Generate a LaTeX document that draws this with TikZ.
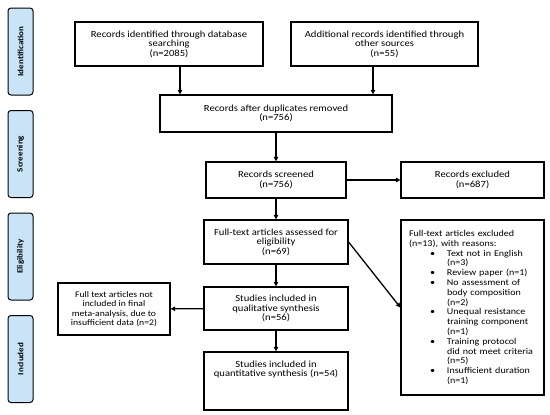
\documentclass[tikz,border=0pt]{standalone}
\usepackage{fontspec}
\setmainfont{Carlito}[FakeStretch=1.13]
\usepackage{tikz}
\usetikzlibrary{arrows.meta,positioning,calc}
\definecolor{stageblue}{RGB}{200,228,246}
\newcommand{\bitem}[1]{\hspace*{21pt}\makebox[17pt][l]{\textbullet}\mbox{#1}}
\newcommand{\bcont}[1]{\hspace*{38pt}\mbox{#1}}
\tikzset{
  box/.style={rectangle,draw,line width=1.2pt,align=center,inner sep=2pt,font=\fontsize{9.4}{9.5}\selectfont},
  lbox/.style={rectangle,draw,line width=1.2pt,align=left,inner xsep=8pt,inner ysep=0pt,font=\fontsize{8.9}{9.8}\selectfont},
  stage/.style={rectangle,rounded corners=3pt,draw,line width=1pt,fill=stageblue,rotate=90,
    minimum width=87pt,minimum height=25pt,inner sep=0pt,font=\bfseries\fontsize{8}{8}\selectfont},
  ar/.style={-{Triangle[length=4.5pt,width=4.5pt]},line width=1.3pt}
}
\begin{document}
\begin{tikzpicture}[x=1pt,y=-1pt]
\useasboundingbox (0,0) rectangle (550,415);
% phases
\node[stage] (sid) at (20.5,51.5) {Identification};
\node[stage] (ssc) at (20.5,154) {Screening};
\node[stage] (sel) at (20.5,256.5) {Eligibility};
\node[stage] (sin) at (20.5,359) {Included};
% boxes
\node[box,minimum width=188pt,minimum height=44pt] (id1) at (169,44) {Records identified through database\\searching\\(n=2085)};
\node[box,minimum width=187pt,minimum height=44pt] (id2) at (384.5,44) {Additional records identified through\\other sources\\(n=55)};
\node[box,minimum width=232pt,minimum height=37pt] (dup) at (276,113.5) {Records after duplicates removed\\(n=756)};
\node[box,minimum width=140pt,minimum height=36pt] (scr) at (276,180) {Records screened\\(n=756)};
\node[box,minimum width=143pt,minimum height=36pt] (exc) at (472.5,180) {Records excluded\\(n=687)};
\node[box,minimum width=144pt,minimum height=44pt] (ft) at (276,242) {Full-text articles assessed for\\eligibility\\(n=69)};
\node[box,minimum width=144pt,minimum height=43pt] (qual) at (276,308.5) {Studies included in\\qualitative synthesis\\(n=56)};
\node[box,minimum width=112pt,minimum height=52pt,font=\fontsize{8.6}{9.5}\selectfont] (ni) at (114,309) {Full text articles not\\included in final\\meta-analysis, due to\\insufficient data (n=2)};
\node[box,minimum width=144pt,minimum height=58pt] (quan) at (276,381) {Studies included in\\quantitative synthesis (n=54)\\[12pt]\strut};
\node[lbox,minimum width=143pt,minimum height=175pt,text width=127pt] (ftx) at (472.5,307.5) {Full-text articles excluded\\
(n=13), with reasons:\\
\bitem{Text not in English}\\
\bcont{(n=3)}\\
\bitem{Review paper (n=1)}\\
\bitem{No assessment of}\\
\bcont{body composition}\\
\bcont{(n=2)}\\
\bitem{Unequal resistance}\\
\bcont{training component}\\
\bcont{(n=1)}\\
\bitem{Training protocol}\\
\bcont{did not meet criteria}\\
\bcont{(n=5)}\\
\bitem{Insufficient duration}\\
\bcont{(n=1)}};
% arrows
\draw[ar] ([xshift=11pt]id1.south) -- ([xshift=11pt]id1.south |- dup.north);
\draw[ar] ([xshift=-11.5pt]id2.south) -- ([xshift=-11.5pt]id2.south |- dup.north);
\draw[ar] (dup) -- (scr);
\draw[ar] (scr) -- (exc);
\draw[ar] (scr) -- (ft);
\draw[ar] (ft.east) -- (ftx.west);
\draw[ar] (ft) -- (qual);
\draw[ar] (qual) -- (ni);
\draw[ar] (qual) -- (quan);
\end{tikzpicture}
\end{document}
